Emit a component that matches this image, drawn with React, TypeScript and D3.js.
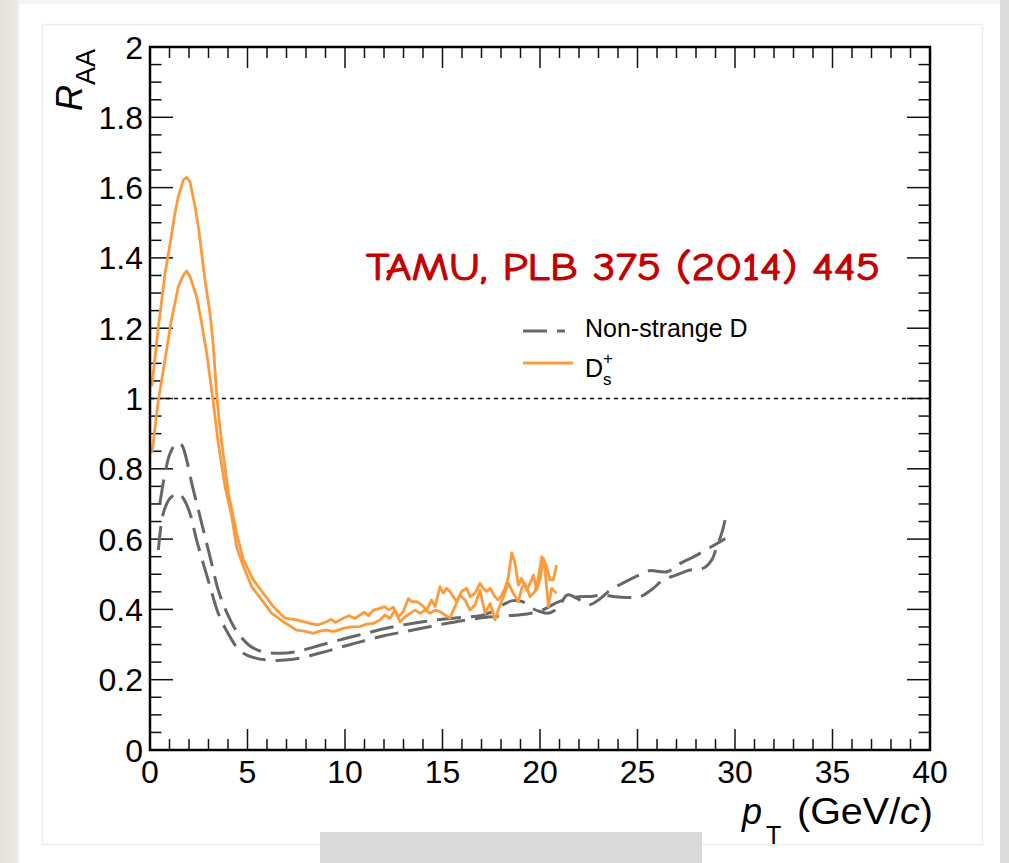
import React from 'react';
import * as d3 from 'd3';

// ---------- data ----------
const xMajorTicks = [0, 5, 10, 15, 20, 25, 30, 35, 40];
const yMajorTicks = [0, 0.2, 0.4, 0.6, 0.8, 1, 1.2, 1.4, 1.6, 1.8, 2];
const yTickLabels = ['0', '0.2', '0.4', '0.6', '0.8', '1', '1.2', '1.4', '1.6', '1.8', '2'];

// D_s+ upper edge [pT, R_AA]
const dsHigh: [number, number][] = [
  [0.09, 1.034], [0.43, 1.204], [0.77, 1.356], [1.03, 1.441], [1.28, 1.527], [1.45, 1.574],
  [1.71, 1.622], [1.88, 1.629], [2.05, 1.617], [2.31, 1.546], [2.48, 1.489], [2.65, 1.413],
  [2.82, 1.337], [3.08, 1.242], [3.25, 1.147], [3.42, 1.01], [3.54, 0.94], [3.68, 0.873],
  [4.02, 0.730], [4.44, 0.617], [4.79, 0.541], [5.30, 0.484], [5.81, 0.446], [6.32, 0.408],
  [6.92, 0.375], [7.52, 0.370], [8.21, 0.360], [8.6, 0.356], [9.06, 0.365], [9.3, 0.372],
  [9.5, 0.363], [9.91, 0.375], [10.2, 0.382], [10.5, 0.374], [10.77, 0.384], [11.0, 0.392],
  [11.2, 0.382], [11.45, 0.398], [11.79, 0.403], [12.05, 0.408], [12.22, 0.398], [12.48, 0.406],
  [12.74, 0.379], [12.99, 0.394], [13.25, 0.431], [13.42, 0.422], [13.68, 0.422], [13.93, 0.413],
  [14.19, 0.398], [14.44, 0.427], [14.62, 0.408], [14.87, 0.465], [15.04, 0.446], [15.21, 0.460],
  [15.38, 0.451], [15.56, 0.436], [15.73, 0.422], [15.98, 0.451], [16.24, 0.460], [16.41, 0.436],
  [16.67, 0.446], [16.92, 0.474], [17.09, 0.460], [17.26, 0.451], [17.44, 0.460], [17.69, 0.436],
  [17.86, 0.427], [18.03, 0.441], [18.21, 0.460], [18.38, 0.493], [18.55, 0.561], [18.72, 0.531],
  [18.89, 0.469], [19.06, 0.488], [19.32, 0.455], [19.57, 0.484], [19.66, 0.498], [19.83, 0.455],
  [20.0, 0.484], [20.17, 0.545], [20.34, 0.521], [20.51, 0.484], [20.68, 0.484], [20.85, 0.526],
];

// D_s+ lower edge
const dsLow: [number, number][] = [
  [0.1, 0.845], [0.43, 0.996], [0.77, 1.110], [1.10, 1.223], [1.45, 1.318], [1.71, 1.351],
  [1.88, 1.363], [2.05, 1.347], [2.39, 1.290], [2.65, 1.214], [2.91, 1.129], [3.05, 1.07],
  [3.22, 1.0], [3.50, 0.873], [3.85, 0.749], [4.19, 0.664], [4.44, 0.578], [4.79, 0.522],
  [5.21, 0.465], [5.73, 0.427], [6.24, 0.389], [6.84, 0.365], [7.52, 0.341], [7.9, 0.338],
  [8.38, 0.332], [8.7, 0.338], [9.06, 0.341], [9.4, 0.337], [9.91, 0.346], [10.3, 0.350],
  [10.77, 0.351], [11.1, 0.358], [11.45, 0.360], [11.79, 0.370], [12.05, 0.384], [12.31, 0.375],
  [12.56, 0.398], [12.82, 0.365], [13.08, 0.379], [13.33, 0.389], [13.59, 0.398], [13.85, 0.389],
  [14.10, 0.398], [14.36, 0.389], [14.62, 0.398], [14.87, 0.394], [15.13, 0.384], [15.38, 0.375],
  [15.64, 0.408], [15.90, 0.441], [16.15, 0.427], [16.41, 0.398], [16.67, 0.413], [16.92, 0.455],
  [17.18, 0.389], [17.44, 0.417], [17.69, 0.370], [17.86, 0.398], [18.12, 0.436], [18.38, 0.474],
  [18.63, 0.446], [18.89, 0.422], [19.06, 0.460], [19.23, 0.474], [19.49, 0.436], [19.74, 0.451],
  [19.91, 0.488], [20.09, 0.550], [20.26, 0.512], [20.43, 0.408], [20.60, 0.460], [20.85, 0.446],
];

// Non-strange D, upper edge
const dUpper: [number, number][] = [
  [0.51, 0.702], [0.77, 0.787], [1.03, 0.844], [1.37, 0.873], [1.62, 0.868], [1.88, 0.825],
  [2.14, 0.759], [2.48, 0.683], [2.82, 0.607], [3.16, 0.531], [3.50, 0.455], [3.93, 0.392],
  [4.44, 0.338], [5.13, 0.296], [5.81, 0.279], [6.67, 0.275], [7.52, 0.280], [8.72, 0.298],
  [10.0, 0.317], [11.0, 0.331], [12.0, 0.345], [13.0, 0.356], [14.0, 0.365], [15.0, 0.372],
  [16.0, 0.377], [17.0, 0.383], [17.5, 0.392], [18.1, 0.413], [18.6, 0.425], [19.1, 0.422],
  [19.6, 0.403], [20.0, 0.394], [20.4, 0.389], [20.9, 0.403], [21.4, 0.441], [21.9, 0.431],
  [22.5, 0.413], [23.1, 0.431], [23.6, 0.455], [24.4, 0.479], [25.1, 0.498], [25.6, 0.510],
  [26.5, 0.507], [27.2, 0.531], [27.9, 0.550], [28.5, 0.569], [29.1, 0.588], [29.5, 0.602],
];

// Non-strange D, lower edge
const dLower: [number, number][] = [
  [0.43, 0.569], [0.68, 0.673], [1.03, 0.716], [1.45, 0.730], [1.71, 0.716], [2.05, 0.673],
  [2.39, 0.597], [2.73, 0.531], [3.08, 0.465], [3.50, 0.389], [4.02, 0.330], [4.62, 0.282],
  [5.38, 0.262], [6.32, 0.255], [7.35, 0.258], [8.72, 0.276], [10.0, 0.296], [11.0, 0.311],
  [12.0, 0.325], [13.0, 0.336], [14.0, 0.347], [15.0, 0.358], [16.0, 0.368], [17.0, 0.376],
  [18.0, 0.381], [19.0, 0.385], [19.6, 0.390], [20.2, 0.400], [20.8, 0.418], [21.4, 0.430],
  [22.0, 0.436], [22.6, 0.437], [23.25, 0.441], [23.85, 0.436], [24.44, 0.434], [25.13, 0.436],
  [25.81, 0.460], [26.32, 0.484], [27.01, 0.498], [27.69, 0.512], [28.37, 0.517], [28.81, 0.541],
  [29.06, 0.578], [29.32, 0.617], [29.49, 0.654],
];

const titleText = 'TAMU, PLB 375 (2014) 445';
const legendNonStrange = 'Non-strange D';

// ---------- component ----------
export default function App() {
  const x = d3.scaleLinear().domain([0, 40]).range([150, 930]);
  const y = d3.scaleLinear().domain([0, 2]).range([750, 47]);

  const lineJag = d3.line<[number, number]>().x((d) => x(d[0])).y((d) => y(d[1]));
  const lineSmooth = d3
    .line<[number, number]>()
    .x((d) => x(d[0]))
    .y((d) => y(d[1]))
    .curve(d3.curveCatmullRom.alpha(0.5));

  const xMinor = d3.range(0, 41, 1);
  const yMinor = d3.range(0, 2.0001, 0.05);

  const orange = '#fd9a3c';
  const gray = '#676767';
  const font = "'Liberation Sans', Arial, Helvetica, sans-serif";

  return (
    <svg
      width={1009}
      height={863}
      style={{ position: 'absolute', left: 0, top: 0, background: '#fff' }}
      fontFamily={font}
    >
      <defs>
        <linearGradient id="leftEdge" x1="0" x2="1" y1="0" y2="0">
          <stop offset="0" stopColor="#e6e2d8" />
          <stop offset="0.8" stopColor="#ebe8e1" />
          <stop offset="1" stopColor="#f6f6f4" />
        </linearGradient>
      </defs>
      {/* page frame */}
      <rect x={0} y={0} width={1009} height={863} fill="#ffffff" />
      <rect x={0} y={0} width={20} height={863} fill="url(#leftEdge)" />
      <rect x={20} y={0} width={980} height={4} fill="#f4f4f4" />
      <rect x={1000} y={0} width={9} height={863} fill="#dedcd9" />
      <rect x={42.5} y={24.5} width={940} height={820} fill="#fff" stroke="#ececec" strokeWidth={1.5} />
      <rect x={320} y={832} width={382} height={31} fill="#dadada" />

      {/* ticks */}
      <g stroke="#111" strokeWidth={1.5}>
        {xMinor.map((v) => {
          const len = v % 5 === 0 ? 21 : 11;
          return (
            <g key={'xt' + v}>
              <line x1={x(v)} x2={x(v)} y1={750} y2={750 - len} />
              <line x1={x(v)} x2={x(v)} y1={47} y2={47 + len} />
            </g>
          );
        })}
        {yMinor.map((v, i) => {
          const len = i % 4 === 0 ? 23 : 11.5;
          return (
            <g key={'yt' + i}>
              <line x1={150} x2={150 + len} y1={y(v)} y2={y(v)} />
              <line x1={930} x2={930 - len} y1={y(v)} y2={y(v)} />
            </g>
          );
        })}
      </g>

      {/* y = 1 reference */}
      <line x1={150} x2={930} y1={y(1)} y2={y(1)} stroke="#000" strokeWidth={1.3} strokeDasharray="4 4" />

      {/* curves */}
      <path d={lineSmooth(dUpper) || ''} fill="none" stroke={gray} strokeWidth={3} strokeDasharray="24 10" />
      <path d={lineSmooth(dLower) || ''} fill="none" stroke={gray} strokeWidth={3} strokeDasharray="24 10" />
      <path d={lineJag(dsHigh) || ''} fill="none" stroke={orange} strokeWidth={2.8} strokeLinejoin="round" />
      <path d={lineJag(dsLow) || ''} fill="none" stroke={orange} strokeWidth={2.8} strokeLinejoin="round" />

      {/* frame */}
      <rect x={150} y={47} width={780} height={703} fill="none" stroke="#000" strokeWidth={2.5} />

      {/* tick labels */}
      <g fontSize={32} fill="#000">
        {xMajorTicks.map((v) => (
          <text key={'xl' + v} x={x(v)} y={783} textAnchor="middle">
            {String(v)}
          </text>
        ))}
        {yMajorTicks.map((v, i) => (
          <text key={'yl' + i} x={143} y={y(v) + 11.5} textAnchor="end">
            {yTickLabels[i]}
          </text>
        ))}
      </g>

      {/* axis titles */}
      <text x={742} y={824} fontSize={36} fontStyle="italic">p</text>
      <text x={766} y={844} fontSize={25}>T</text>
      <text x={797} y={824} fontSize={36} textLength={136} lengthAdjust="spacingAndGlyphs">
        (GeV/<tspan fontStyle="italic">c</tspan>)
      </text>
      <g transform="translate(82,111) rotate(-90)">
        <text x={0} y={0} fontSize={36}>
          <tspan fontStyle="italic">R</tspan>
          <tspan fontSize={27} dy={13}>AA</tspan>
        </text>
      </g>

      {/* title */}
      <text
        x={366}
        y={280}
        fontSize={38}
        fill="#c40000"
        stroke="#c40000"
        strokeWidth={1.1}
        fontFamily="'Comic Sans MS', 'Comic Neue', 'DejaVu Sans', sans-serif"
        textLength={514}
        lengthAdjust="spacingAndGlyphs"
      >
        {titleText}
      </text>

      {/* legend */}
      <line x1={523} x2={565} y1={331} y2={331} stroke={gray} strokeWidth={3} strokeDasharray="24 10" />
      <text x={585} y={337} fontSize={25}>{legendNonStrange}</text>
      <line x1={523} x2={573} y1={363} y2={363} stroke={orange} strokeWidth={3} />
      <text x={585} y={377} fontSize={25}>D</text>
      <text x={603} y={385} fontSize={17}>s</text>
      <text x={603} y={364} fontSize={17}>+</text>
    </svg>
  );
}
